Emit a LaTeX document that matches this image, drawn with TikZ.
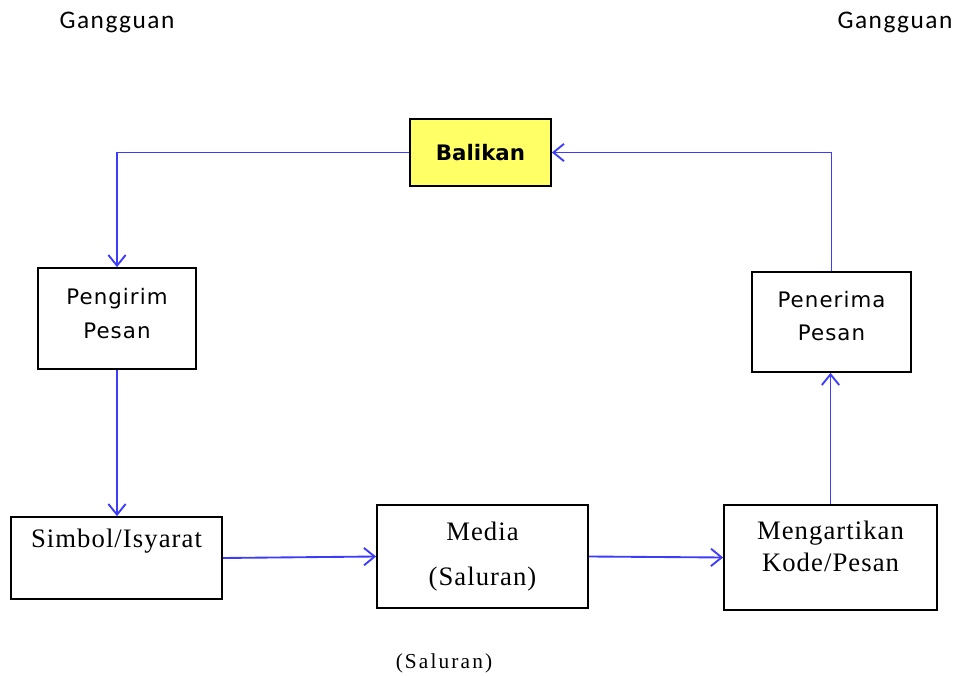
\documentclass[tikz,border=0pt]{standalone}
\usepackage{fontspec}
\setmainfont{Liberation Serif}
\newfontfamily\boxsans[LetterSpace=5]{DejaVu Sans}
\newfontfamily\balfont{DejaVu Sans}
\newfontfamily\noisefont[LetterSpace=6]{Carlito}
\newfontfamily\boxserif[LetterSpace=4]{Liberation Serif}
\newfontfamily\chanfont[LetterSpace=10]{Liberation Serif}
\usepackage{tikz}
\usetikzlibrary{positioning}
\usetikzlibrary{arrows.meta}

\definecolor{flowblue}{RGB}{60,60,250}
\definecolor{balyellow}{RGB}{255,255,102}

\begin{document}
\begin{tikzpicture}[x=0.75pt, y=-0.75pt,
    box/.style={draw=black, line width=1.3pt, fill=white, inner sep=0pt, align=center},
    sanstxt/.style={align=center, font=\fontsize{16}{25}\selectfont\boxsans},
    seriftxt/.style={align=center, font=\fontsize{20}{24}\selectfont\boxserif},
    flow/.style={draw=flowblue, line width=1.4pt, -{Straight Barb[length=8pt,width=13pt]}}]

  \useasboundingbox (0,0) rectangle (961,677);

  \def\px{0.75pt}

	%noise labels
  \node[font=\fontsize{19}{22}\selectfont\noisefont] (noiseL) at (117,22) {Gangguan};
  \node[font=\fontsize{19}{22}\selectfont\noisefont] (noiseR) at (895,22) {Gangguan};

	%draw boxes
  \node[box, fill=balyellow, minimum width=141*\px, minimum height=67*\px,
        font=\fontsize{16}{18}\selectfont\balfont\bfseries] (bal) at (480.5,152.5) {Balikan};
  \node[box, minimum width=158*\px, minimum height=101*\px] (kirim) at (117,318.5) {};
  \node[sanstxt] (kirimtxt) at (117,313.5) {Pengirim\\Pesan};
  \node[box, minimum width=159*\px, minimum height=100*\px] (terima) at (831.5,322) {};
  \node[sanstxt] (terimatxt) at (831.5,316) {Penerima\\Pesan};

  \node[box, minimum width=211*\px, minimum height=82*\px] (simbol) at (116.5,558) {};
  \node[seriftxt] (simboltxt) at (116.5,541) {Simbol/Isyarat};

  \node[box, seriftxt, font=\fontsize{20}{34}\selectfont\boxserif,
        minimum width=211*\px, minimum height=103*\px] (media) at (482.5,556.5) {Media\\(Saluran)};

  \node[box, minimum width=213*\px, minimum height=105*\px] (ngarti) at (830.5,557.5) {};
  \node[seriftxt] (ngartitxt) at (830.5,546) {Mengartikan\\Kode/Pesan};

  \node[font=\fontsize{16}{18}\selectfont\chanfont] (saluran) at (444,663) {(Saluran)};

	%arrows
  \draw[flow] (bal.west) -| (kirim.north);
  \draw[flow] (terima.north) |- (bal.east);
  \draw[flow] (kirim.south) -- (kirim.south |- simbol.north);
  \draw[flow] (simbol.east) -- (media.west);
  \draw[flow] (media.east) -- (ngarti.west);
  \draw[flow] (ngarti.north) -- (ngarti.north |- terima.south);

\end{tikzpicture}
\end{document}
